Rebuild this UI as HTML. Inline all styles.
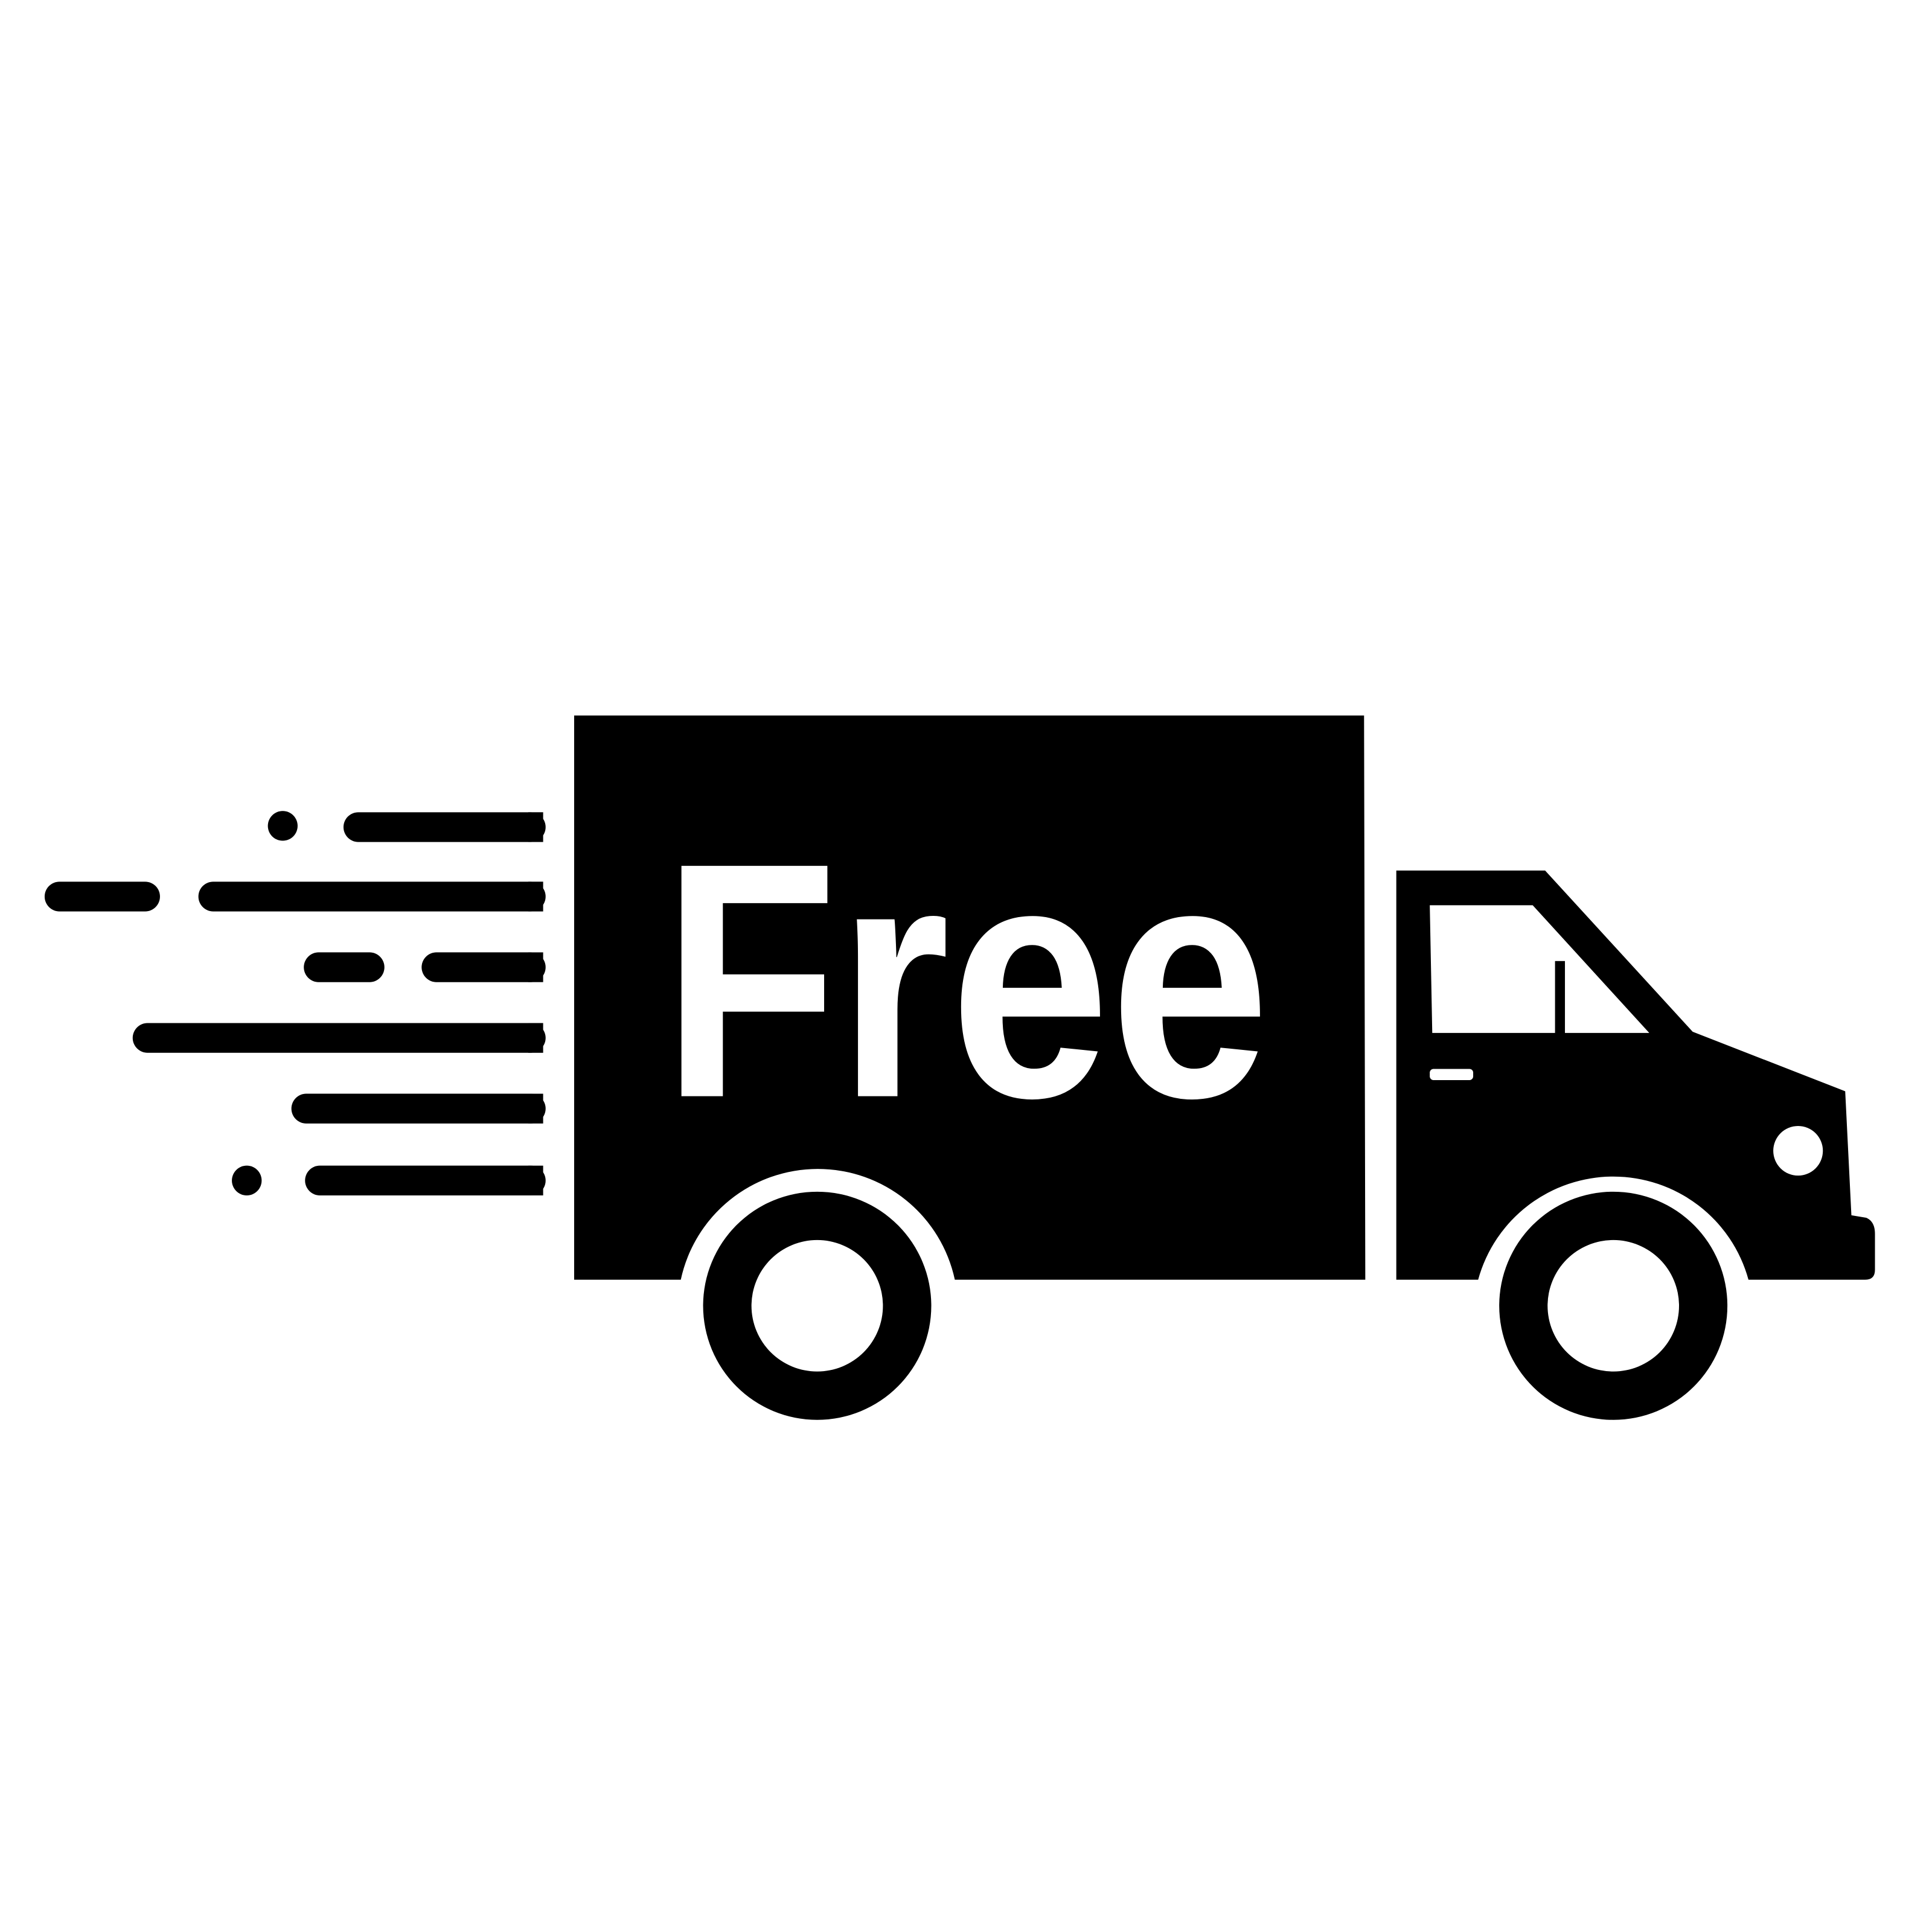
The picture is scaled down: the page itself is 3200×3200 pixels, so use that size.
<!DOCTYPE html>
<html><head><meta charset="utf-8"><style>
html,body{margin:0;padding:0;background:#fff;}
svg{display:block;}
</style></head><body>
<svg width="3200" height="3200" viewBox="0 0 1558 1558" xmlns="http://www.w3.org/2000/svg">
<rect width="1558" height="1558" fill="#fff"/>
<g stroke="#000" stroke-width="24" stroke-linecap="round" fill="none">
  <line x1="289" y1="667" x2="428" y2="667"/>
  <line x1="48" y1="723" x2="117" y2="723"/>
  <line x1="172" y1="723" x2="428" y2="723"/>
  <line x1="257" y1="780" x2="298" y2="780"/>
  <line x1="352" y1="780" x2="428" y2="780"/>
  <line x1="119" y1="837" x2="428" y2="837"/>
  <line x1="247" y1="894" x2="428" y2="894"/>
  <line x1="258" y1="952" x2="428" y2="952"/>
</g>
<g fill="#000">
  <rect x="426" y="655" width="12" height="24"/>
  <rect x="426" y="711" width="12" height="24"/>
  <rect x="426" y="768" width="12" height="24"/>
  <rect x="426" y="825" width="12" height="24"/>
  <rect x="426" y="882" width="12" height="24"/>
  <rect x="426" y="940" width="12" height="24"/>
  <circle cx="228" cy="666" r="12"/>
  <circle cx="199" cy="952" r="12"/>
  <path d="M463,577 L1100,577 L1101,1032 L770,1032 A113,113 0 0 0 549,1032 L463,1032 Z"/>
  <path d="M1126,702 L1246,702 L1365,832 L1488,880 L1493,980 L1505,982 Q1512,985 1512,995 L1512,1024 Q1512,1032 1504,1032 L1410,1032 A113,113 0 0 0 1192,1032 L1126,1032 Z"/>
  <circle cx="659" cy="1053" r="92"/>
  <circle cx="1301" cy="1053" r="92"/>
</g>
<g fill="#fff">
  <circle cx="659" cy="1053" r="53"/>
  <circle cx="1301" cy="1053" r="53"/>
  <path d="M1153,730 L1236,730 L1330,833 L1155,833 Z"/>
  <rect x="1153" y="862" width="35" height="9" rx="3"/>
  <circle cx="1450" cy="928" r="20"/>
</g>
<rect x="1254" y="775" width="8" height="60" fill="#000"/>
<text x="534" y="884" font-family="'Liberation Sans', sans-serif" font-weight="bold" font-size="270" fill="#fff" textLength="490" lengthAdjust="spacingAndGlyphs">Free</text>
</svg>
</body></html>
